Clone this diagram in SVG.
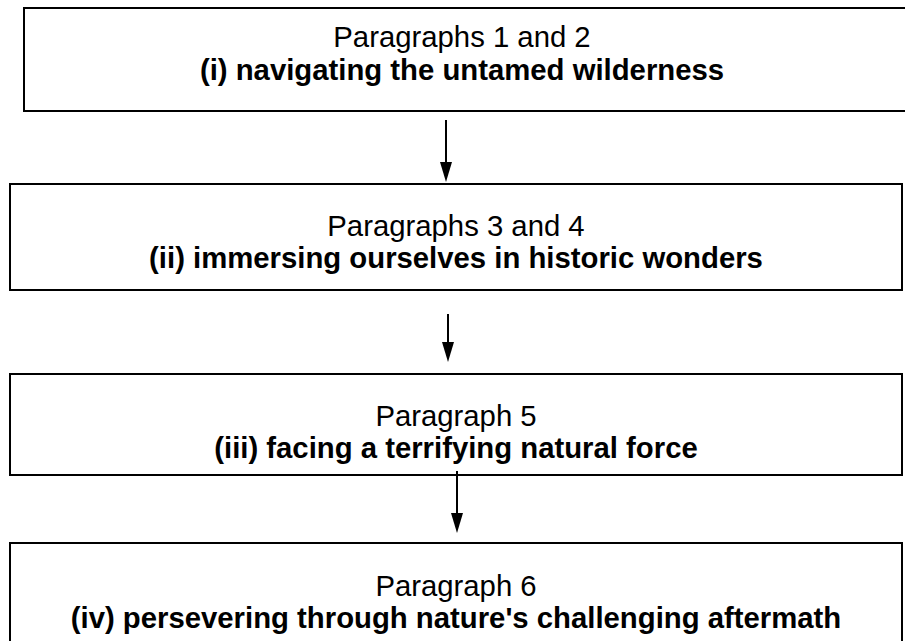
<svg xmlns="http://www.w3.org/2000/svg" width="905" height="641" viewBox="0 0 905 641">
<style>
.box{fill:#fff;stroke:#000;stroke-width:2}
.t{font-family:"Liberation Sans",Arial,sans-serif;font-size:29.3px;text-anchor:middle;fill:#000}
.b{font-weight:bold}
.c{stroke:#000;stroke-width:2;fill:none}
</style>
<defs>
<marker id="ah" markerWidth="12" markerHeight="20" refX="6" refY="20" orient="auto" markerUnits="userSpaceOnUse" viewBox="0 0 12 20">
<path d="M0,0 L12,0 L6,20 Z" fill="#000" transform="rotate(-90 6 10)"/>
</marker>
</defs>
<rect width="905" height="641" fill="#fff"/>
<g id="n1">
<rect class="box" x="24" y="8" width="890" height="103"/>
<text class="t" x="462" y="47">Paragraphs 1 and 2</text>
<text class="t b" x="462" y="80">(i) navigating the untamed wilderness</text>
</g>
<g id="n2">
<rect class="box" x="10" y="184" width="892" height="106"/>
<text class="t" x="456" y="236">Paragraphs 3 and 4</text>
<text class="t b" x="456" y="268">(ii) immersing ourselves in historic wonders</text>
</g>
<g id="n3">
<rect class="box" x="10" y="374" width="892" height="101"/>
<text class="t" x="456" y="426">Paragraph 5</text>
<text class="t b" x="456" y="458">(iii) facing a terrifying natural force</text>
</g>
<g id="n4">
<rect class="box" x="10" y="543" width="892" height="110"/>
<text class="t" x="456" y="596">Paragraph 6</text>
<text class="t b" x="456" y="628">(iv) persevering through nature's challenging aftermath</text>
</g>
<g id="connectors">
<line class="c" x1="446" y1="120" x2="446" y2="164"/>
<path d="M440,162 L452,162 L446,182 Z"/>
<line class="c" x1="448" y1="314" x2="448" y2="344"/>
<path d="M442,342 L454,342 L448,362 Z"/>
<line class="c" x1="457" y1="471" x2="457" y2="515"/>
<path d="M451,513 L463,513 L457,533 Z"/>
</g>
</svg>
